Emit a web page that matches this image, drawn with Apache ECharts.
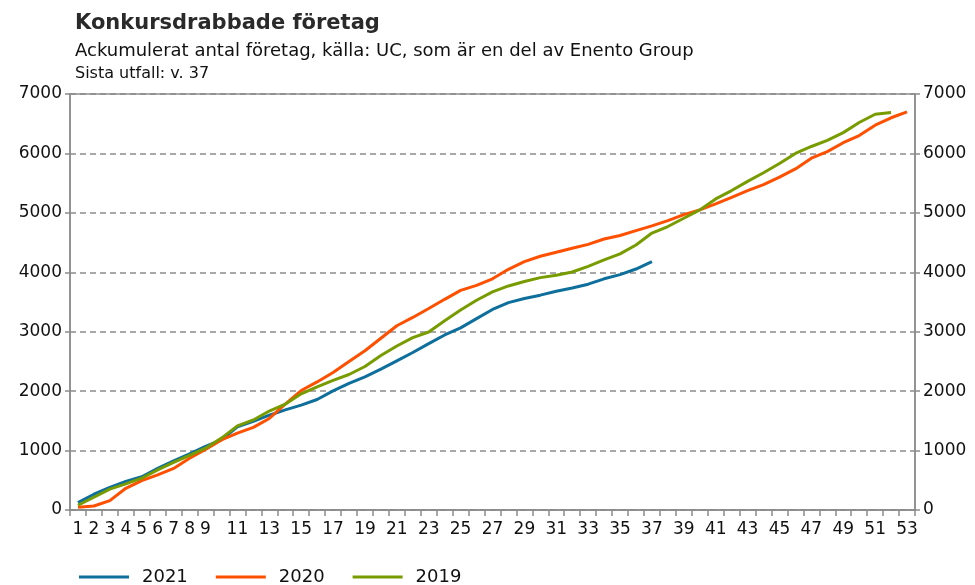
<!DOCTYPE html>
<html>
<head>
<meta charset="utf-8">
<script src="https://cdn.jsdelivr.net/npm/echarts@6/dist/echarts.min.js"></script>
<style>
  html, body { margin: 0; padding: 0; background: #fff; }
  #chart { width: 975px; height: 585px; }
</style>
</head>
<body>
<div id="chart"></div>
<script>
// week numbers 1..53
const weeks = ['1','2','3','4','5','6','7','8','9','10','11','12','13','14','15','16','17','18','19','20',
  '21','22','23','24','25','26','27','28','29','30','31','32','33','34','35','36','37','38','39','40',
  '41','42','43','44','45','46','47','48','49','50','51','52','53']

const y2021 = [125, 265, 380, 480, 560, 700, 825, 945, 1070, 1180, 1400, 1490, 1595, 1685, 1765, 1860,
  2005, 2130, 2240, 2370, 2510, 2650, 2800, 2945, 3065, 3220, 3375, 3490, 3560, 3615, 3680, 3735, 3800,
  3890, 3960, 4055, 4180]

const y2020 = [45, 67, 157, 365, 495, 590, 700, 870, 1020, 1180, 1295, 1390, 1540, 1780, 2010, 2155,
  2315, 2500, 2680, 2890, 3100, 3240, 3390, 3545, 3695, 3780, 3890, 4050, 4180, 4270, 4337, 4405, 4470,
  4560, 4620, 4700, 4780, 4870, 4970, 5050, 5150, 5260, 5375, 5475, 5600, 5740, 5920, 6030, 6180, 6300,
  6475, 6600, 6700]

const y2019 = [80, 215, 350, 440, 535, 675, 800, 920, 1040, 1210, 1415, 1515, 1665, 1780, 1955, 2070,
  2180, 2280, 2415, 2600, 2760, 2900, 2995, 3185, 3365, 3530, 3670, 3770, 3845, 3910, 3950, 4005, 4100,
  4210, 4310, 4460, 4660, 4770, 4910, 5050, 5235, 5375, 5530, 5675, 5830, 6000, 6117, 6220, 6350, 6520,
  6660, 6690]

const yTicks = { min: 0, max: 7000, interval: 1000 }

const FONT = 'DejaVu Sans'
const AXIS_GREY = '#8c8c8c'

function valueAxis(position) {
  return {
    type: 'value',
    position,
    min: yTicks.min,
    max: yTicks.max,
    interval: yTicks.interval,
    axisLine: { show: true, lineStyle: { color: AXIS_GREY, width: 1.5 } },
    axisTick: { show: true, length: 5, lineStyle: { color: AXIS_GREY, width: 1.5 } },
    axisLabel: {
      color: '#111',
      fontFamily: FONT,
      fontSize: 17,
      margin: 8,
      formatter: value => String(value),
    },
    splitLine: {
      show: position === 'left',
      lineStyle: { color: AXIS_GREY, width: 1.5, type: [6, 4] },
    },
  }
}

function lineSeries(name, data, color) {
  return {
    name,
    type: 'line',
    data,
    symbol: 'none',
    smooth: false,
    lineStyle: { width: 3, color },
    itemStyle: { color },
  }
}

const chart = echarts.init(document.getElementById('chart'))
chart.setOption({
  animation: false,
  title: [
    {
      text: 'Konkursdrabbade företag',
      left: 70,
      top: 8,
      textStyle: { fontFamily: FONT, fontSize: 21, fontWeight: 'bold', color: '#2a2a2a' },
    },
    {
      text: 'Ackumulerat antal företag, källa: UC, som är en del av Enento Group',
      left: 70,
      top: 37,
      textStyle: { fontFamily: FONT, fontSize: 18, fontWeight: 'normal', color: '#111' },
    },
    {
      text: 'Sista utfall: v. 37',
      left: 70,
      top: 61,
      textStyle: { fontFamily: FONT, fontSize: 16, fontWeight: 'normal', color: '#111' },
    },
  ],
  legend: {
    left: 74,
    top: 563,
    icon: 'rect',
    itemWidth: 50,
    itemHeight: 3,
    itemGap: 28,
    textStyle: { fontFamily: FONT, fontSize: 18, color: '#111', padding: [0, 0, 0, 8] },
    data: ['2021', '2020', '2019'],
  },
  grid: { left: 70, right: 60, top: 94, bottom: 75, show: true, borderColor: AXIS_GREY, borderWidth: 1.5 },
  xAxis: {
    type: 'category',
    data: weeks,
    boundaryGap: true,
    axisLine: { lineStyle: { color: AXIS_GREY, width: 1.5 } },
    axisTick: { show: true, interval: 0, length: 6, lineStyle: { color: AXIS_GREY, width: 1.5 } },
    axisLabel: {
      color: '#111',
      fontFamily: FONT,
      fontSize: 17,
      margin: 11,
      interval: (index) => index < 9 || index % 2 === 0,
    },
  },
  yAxis: [valueAxis('left'), valueAxis('right')],
  series: [
    lineSeries('2021', y2021, '#0e6f9c'),
    lineSeries('2020', y2020, '#ff5000'),
    lineSeries('2019', y2019, '#789c00'),
  ],
})
</script>
</body>
</html>
